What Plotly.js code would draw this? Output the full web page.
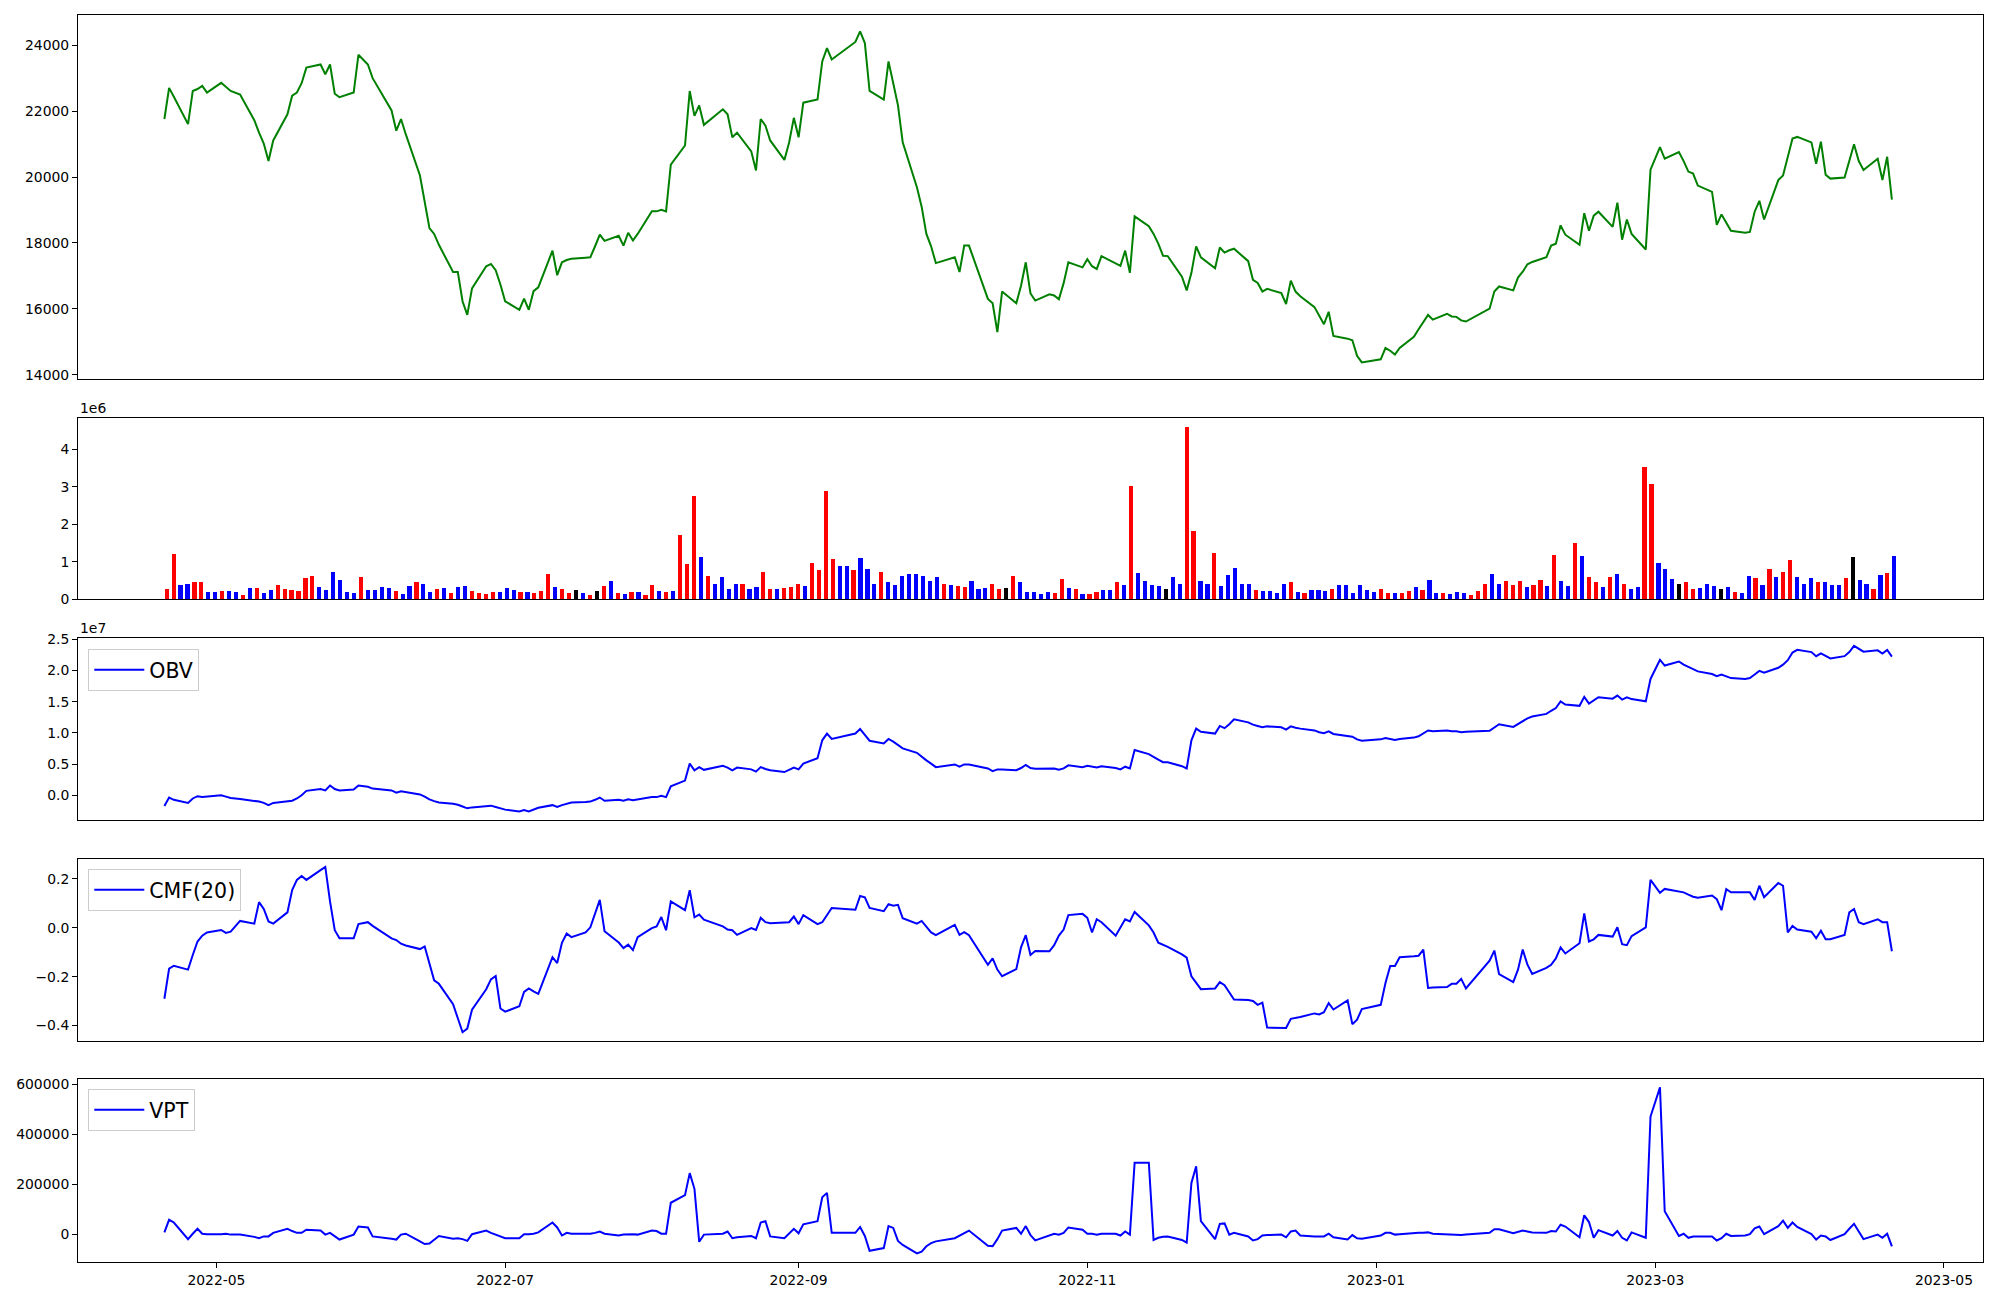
<!DOCTYPE html>
<html>
<head>
<meta charset="utf-8">
<script src="https://cdn.plot.ly/plotly-3.0.1.min.js"></script>
<style>html,body{margin:0;padding:0;background:#fff;}#chart{width:2000px;height:1300px;}</style>
</head>
<body>
<div id="chart"></div>
<script>
// Trading dates
const dates = [
'2022-04-20','2022-04-21','2022-04-22','2022-04-25','2022-04-26','2022-04-27','2022-04-28','2022-04-29',
'2022-05-02','2022-05-03','2022-05-04','2022-05-06','2022-05-09','2022-05-10','2022-05-11','2022-05-12','2022-05-13','2022-05-16','2022-05-17','2022-05-18','2022-05-19','2022-05-20','2022-05-23','2022-05-24','2022-05-25','2022-05-26','2022-05-27','2022-05-30','2022-05-31',
'2022-06-02','2022-06-03','2022-06-07','2022-06-08','2022-06-09','2022-06-10','2022-06-13','2022-06-14','2022-06-15','2022-06-16','2022-06-17','2022-06-20','2022-06-21','2022-06-22','2022-06-23','2022-06-24','2022-06-27','2022-06-28','2022-06-29','2022-06-30',
'2022-07-01','2022-07-04','2022-07-05','2022-07-06','2022-07-07','2022-07-08','2022-07-11','2022-07-12','2022-07-13','2022-07-14','2022-07-15','2022-07-18','2022-07-19','2022-07-20','2022-07-21','2022-07-22','2022-07-25','2022-07-26','2022-07-27','2022-07-28','2022-07-29',
'2022-08-01','2022-08-02','2022-08-03','2022-08-04','2022-08-05','2022-08-08','2022-08-09','2022-08-10','2022-08-11','2022-08-12','2022-08-16','2022-08-17','2022-08-18','2022-08-19','2022-08-22','2022-08-23','2022-08-24','2022-08-25','2022-08-26','2022-08-29','2022-08-30','2022-08-31',
'2022-09-01','2022-09-02','2022-09-05','2022-09-06','2022-09-07','2022-09-08','2022-09-13','2022-09-14','2022-09-15','2022-09-16','2022-09-19','2022-09-20','2022-09-21','2022-09-22','2022-09-23','2022-09-26','2022-09-27','2022-09-28','2022-09-29','2022-09-30',
'2022-10-04','2022-10-05','2022-10-06','2022-10-07','2022-10-11','2022-10-12','2022-10-13','2022-10-14','2022-10-17','2022-10-18','2022-10-19','2022-10-20','2022-10-21','2022-10-24','2022-10-25','2022-10-26','2022-10-27','2022-10-28','2022-10-31',
'2022-11-01','2022-11-02','2022-11-03','2022-11-04','2022-11-07','2022-11-08','2022-11-09','2022-11-10','2022-11-11','2022-11-14','2022-11-15','2022-11-16','2022-11-17','2022-11-18','2022-11-21','2022-11-22','2022-11-23','2022-11-24','2022-11-25','2022-11-28','2022-11-29','2022-11-30',
'2022-12-01','2022-12-02','2022-12-05','2022-12-06','2022-12-07','2022-12-08','2022-12-09','2022-12-12','2022-12-13','2022-12-14','2022-12-15','2022-12-16','2022-12-19','2022-12-20','2022-12-21','2022-12-22','2022-12-23','2022-12-26','2022-12-27','2022-12-28','2022-12-29',
'2023-01-02','2023-01-03','2023-01-04','2023-01-05','2023-01-06','2023-01-09','2023-01-10','2023-01-11','2023-01-12','2023-01-13','2023-01-16','2023-01-17','2023-01-18','2023-01-19','2023-01-20','2023-01-25','2023-01-26','2023-01-27','2023-01-30','2023-01-31',
'2023-02-01','2023-02-02','2023-02-03','2023-02-06','2023-02-07','2023-02-08','2023-02-09','2023-02-10','2023-02-13','2023-02-14','2023-02-15','2023-02-16','2023-02-17','2023-02-20','2023-02-21','2023-02-22','2023-02-23','2023-02-24','2023-02-27','2023-02-28',
'2023-03-02','2023-03-03','2023-03-06','2023-03-07','2023-03-08','2023-03-09','2023-03-10','2023-03-13','2023-03-14','2023-03-15','2023-03-16','2023-03-17','2023-03-20','2023-03-21','2023-03-22','2023-03-23','2023-03-24','2023-03-27','2023-03-28','2023-03-29','2023-03-30','2023-03-31',
'2023-04-03','2023-04-04','2023-04-05','2023-04-06','2023-04-07','2023-04-10','2023-04-11','2023-04-12','2023-04-13','2023-04-14','2023-04-17','2023-04-18','2023-04-19','2023-04-20'
];

// Closing price
const closePrice = [
21765,22711,22439,21611,22617,22676,22771,22570,
22865,22747,22617,22510,21730,21351,21020,20487,21114,21907,22475,22570,22853,23327,23421,23126,23421,22534,22428,22570,23717,
23421,23007,22025,21410,21765,21304,20050,19198,18453,18275,17944,17116,17116,16229,15815,16619,17293,17364,17175,16737,
16229,15968,16311,15968,16536,16654,17766,17021,17412,17483,17518,17554,17565,17900,18252,18062,18216,17920,18311,18074,18275,
18961,18961,19009,18961,20381,20961,22617,21860,22179,21588,22061,21907,21209,21351,20783,20203,21765,21564,21114,20523,21055,21801,
21209,22262,22357,23516,23918,23575,24107,24427,24072,22617,22357,23516,22853,22179,21055,19695,19103,18275,17897,17388,
17565,17116,17920,17920,16300,16169,15294,16524,16169,16702,17412,16465,16250,16442,16406,16288,16780,17412,17258,
17506,17293,17211,17601,17364,17305,17766,17092,18808,18512,18275,17979,17613,17601,16974,16560,17092,17896,17565,17234,17861,17707,
17778,17825,17447,16879,16785,16524,16607,16477,16146,16856,16524,16382,16051,15768,15531,15909,15176,15093,15046,14573,14372,
14466,14809,14726,14608,14809,15152,15377,15613,15814,15672,15850,15767,15755,15649,15613,16004,16524,16678,16560,16950,
17128,17353,17423,17565,17920,17979,18535,18251,17944,18902,18370,18831,18949,18488,19222,18098,18713,18275,17802,20227,
20913,20558,20759,20487,20168,20109,19742,19553,18547,18867,18618,18370,18311,18334,18949,19281,18713,19908,20050,20617,21173,21221,
21055,20405,21079,20073,19955,19990,20499,21000,20487,20215,20558,19908,20617,19316
];

// Volume, in units of 1e6 shares
const volumeMillions = [
0.27,1.20,0.37,0.42,0.46,0.46,0.19,0.19,
0.22,0.22,0.19,0.11,0.30,0.30,0.17,0.24,0.37,0.27,0.24,0.22,0.56,0.61,0.32,0.24,0.73,0.51,0.19,0.17,0.59,
0.24,0.24,0.32,0.30,0.22,0.13,0.35,0.46,0.40,0.19,0.27,0.30,0.17,0.32,0.35,0.22,0.17,0.13,0.19,0.19,
0.30,0.24,0.19,0.19,0.17,0.22,0.67,0.32,0.27,0.17,0.24,0.17,0.11,0.22,0.35,0.49,0.17,0.13,0.19,0.19,0.11,
0.37,0.22,0.19,0.22,1.71,0.93,2.75,1.12,0.61,0.42,0.59,0.27,0.40,0.40,0.27,0.32,0.73,0.27,0.27,0.30,0.32,0.40,
0.35,0.98,0.78,2.88,1.07,0.88,0.88,0.78,1.10,0.80,0.42,0.73,0.46,0.37,0.61,0.67,0.67,0.61,0.49,0.59,
0.40,0.37,0.35,0.32,0.49,0.27,0.30,0.42,0.27,0.30,0.61,0.46,0.19,0.19,0.13,0.19,0.17,0.54,0.30,
0.27,0.13,0.13,0.19,0.24,0.24,0.46,0.37,3.02,0.69,0.49,0.37,0.35,0.27,0.59,0.40,4.61,1.81,0.49,0.40,1.23,0.35,
0.64,0.83,0.42,0.40,0.24,0.22,0.22,0.17,0.40,0.46,0.19,0.17,0.24,0.24,0.22,0.27,0.37,0.37,0.17,0.37,0.24,
0.19,0.27,0.17,0.17,0.17,0.22,0.32,0.24,0.51,0.17,0.17,0.13,0.19,0.17,0.11,0.22,0.42,0.67,0.42,0.49,
0.37,0.49,0.32,0.37,0.51,0.35,1.17,0.49,0.35,1.49,1.15,0.59,0.46,0.32,0.59,0.67,0.40,0.27,0.32,3.52,
3.09,0.98,0.80,0.54,0.42,0.46,0.27,0.30,0.40,0.35,0.27,0.32,0.19,0.17,0.61,0.56,0.37,0.80,0.59,0.73,1.05,0.59,
0.42,0.56,0.46,0.46,0.37,0.37,0.56,1.12,0.51,0.40,0.27,0.64,0.69,1.15
];

// Candle direction per day: u = up, d = down, f = flat
const candleDirection =
"uudduudd" +
"uddududduuuuuuddddddu" +
"ddddudduddududduuuud" +
"dduduuuduufdufudududu" +
"ududuuududdddudduuduuu" +
"duuuuddudddudddddddd" +
"uduuddduufuddddduud" +
"uduuddududdddfdduuddud" +
"dddduddddududdduddddd" +
"duuduududduddduuuddu" +
"uuduududduduudududdu" +
"udddfuudddfduddududuud" +
"ddudddufddudud";

// On-balance volume, in units of 1e7
const obv1e7 = [
-0.173,-0.036,-0.072,-0.122,-0.051,-0.015,-0.029,-0.022,
-0.001,-0.022,-0.044,-0.058,-0.087,-0.101,-0.122,-0.158,-0.122,-0.094,-0.087,-0.051,0.000,0.071,0.100,0.078,0.157,0.100,0.078,0.093,0.157,
0.136,0.107,0.078,0.043,0.064,0.050,0.014,-0.022,-0.065,-0.094,-0.115,-0.137,-0.151,-0.180,-0.209,-0.194,-0.180,-0.166,-0.187,-0.209,
-0.230,-0.259,-0.237,-0.259,-0.230,-0.201,-0.158,-0.187,-0.158,-0.137,-0.115,-0.108,-0.101,-0.072,-0.036,-0.087,-0.072,-0.087,-0.065,-0.080,-0.065,
-0.029,-0.029,-0.008,-0.029,0.143,0.236,0.508,0.401,0.451,0.408,0.473,0.444,0.401,0.444,0.415,0.379,0.451,0.422,0.401,0.372,0.408,0.444,
0.415,0.508,0.594,0.881,0.989,0.903,0.989,1.061,0.967,0.874,0.831,0.903,0.860,0.810,0.752,0.681,0.616,0.559,0.508,0.451,
0.494,0.458,0.494,0.494,0.430,0.387,0.415,0.415,0.401,0.437,0.487,0.437,0.426,0.437,0.430,0.408,0.430,0.480,0.451,
0.473,0.458,0.444,0.466,0.437,0.415,0.458,0.430,0.724,0.659,0.609,0.573,0.530,0.530,0.466,0.430,0.881,1.068,1.017,0.989,1.111,1.075,
1.139,1.218,1.168,1.132,1.111,1.089,1.104,1.089,1.053,1.104,1.082,1.068,1.039,1.010,0.996,1.025,0.982,0.946,0.939,0.896,0.874,
0.896,0.917,0.903,0.888,0.903,0.924,0.946,0.989,1.039,1.025,1.039,1.025,1.025,1.010,1.017,1.032,1.082,1.139,1.096,1.139,
1.182,1.233,1.261,1.304,1.354,1.397,1.505,1.455,1.433,1.577,1.469,1.527,1.570,1.548,1.598,1.534,1.570,1.541,1.505,1.864,
2.172,2.079,2.143,2.093,2.057,2.014,1.985,1.942,1.907,1.935,1.907,1.878,1.864,1.878,1.935,1.993,1.964,2.043,2.093,2.165,2.287,2.330,
2.294,2.229,2.272,2.229,2.193,2.229,2.294,2.394,2.351,2.301,2.322,2.272,2.330,2.222
];

// Chaikin money flow (20)
const cmf20 = [
-0.290,-0.167,-0.155,-0.171,-0.111,-0.056,-0.032,-0.019,
-0.009,-0.021,-0.016,0.028,0.017,0.105,0.077,0.026,0.017,0.063,0.154,0.196,0.212,0.196,0.236,0.249,0.108,-0.010,-0.043,-0.043,0.015,
0.023,0.008,-0.043,-0.050,-0.065,-0.072,-0.087,-0.076,-0.151,-0.215,-0.229,-0.312,-0.370,-0.427,-0.412,-0.335,-0.251,-0.211,-0.197,-0.330,
-0.343,-0.321,-0.262,-0.248,-0.260,-0.270,-0.120,-0.144,-0.061,-0.023,-0.038,-0.019,0.002,0.060,0.114,-0.014,-0.060,-0.083,-0.069,-0.091,-0.038,
-0.001,0.006,0.044,-0.010,0.108,0.072,0.154,0.043,0.054,0.033,0.006,-0.007,-0.010,-0.029,-0.001,-0.009,0.041,0.023,0.019,0.023,0.023,0.046,
0.015,0.052,0.015,0.023,0.050,0.081,0.074,0.130,0.125,0.081,0.068,0.097,0.090,0.094,0.039,0.017,0.028,0.002,-0.019,-0.030,
0.012,-0.029,-0.018,-0.030,-0.151,-0.125,-0.171,-0.198,-0.169,-0.080,-0.030,-0.111,-0.095,-0.096,-0.071,-0.032,-0.007,0.052,0.057,
0.041,-0.019,0.035,0.023,-0.032,0.002,0.035,0.026,0.065,0.010,-0.019,-0.061,-0.069,-0.078,-0.109,-0.122,-0.198,-0.226,-0.251,-0.248,-0.222,-0.235,
-0.266,-0.293,-0.295,-0.299,-0.315,-0.306,-0.408,-0.408,-0.410,-0.372,-0.370,-0.365,-0.350,-0.354,-0.345,-0.308,-0.334,-0.297,-0.394,-0.376,-0.332,
-0.315,-0.226,-0.156,-0.156,-0.120,-0.116,-0.114,-0.089,-0.246,-0.244,-0.242,-0.229,-0.229,-0.209,-0.248,-0.134,-0.093,-0.189,-0.222,-0.171,
-0.089,-0.151,-0.189,-0.164,-0.151,-0.125,-0.080,-0.105,-0.063,0.059,-0.056,-0.047,-0.029,-0.036,0.002,-0.067,-0.071,-0.034,0.002,0.196,
0.143,0.159,0.150,0.145,0.136,0.127,0.123,0.132,0.117,0.072,0.158,0.145,0.145,0.145,0.114,0.172,0.125,0.183,0.172,-0.019,0.008,-0.007,
-0.016,-0.043,-0.012,-0.047,-0.047,-0.029,0.063,0.077,0.023,0.015,0.035,0.023,0.023,-0.096
];

// Volume price trend
const vpt = [
8900,59100,48400,-18000,3500,23300,3500,1800,
1800,3500,0,0,-9000,-14400,-7200,-7200,7100,23300,14300,7100,7100,19700,16100,0,7100,-7200,-19700,0,32200,
28600,-7200,-16200,-19700,0,3500,-26900,-37700,-35900,-21500,-5400,-16200,-14400,-18000,-25100,1800,16100,7100,0,-7200,
-14400,-14400,1800,1800,3500,8900,48400,28600,-3600,7100,3500,3500,3500,7000,12500,3500,-3600,0,1800,1800,0,
16100,14300,3500,3500,127200,157700,245500,182800,-28700,0,3500,12500,-14400,-10800,-5400,-14400,48400,53700,-7200,-14400,3500,23300,
5300,41200,53700,148700,166600,7100,7100,30400,-5400,-64500,-53800,34000,26800,-25100,-41200,-75300,-68100,-46600,-34100,-26900,
-14400,-3600,5300,16100,-44800,-46600,-18000,16100,26800,3500,34000,-1800,-23000,-1800,3500,0,7100,28600,19700,
3500,3500,0,3500,3500,-3600,12500,0,286700,286700,-21500,-12600,-9000,-7200,-21500,-32300,206000,272400,53700,-18000,43000,44800,
0,7100,-7200,-23300,-18000,-3600,-1800,0,-10800,12500,16100,-3600,-7200,-7200,-7200,3500,-10800,-19700,-1800,-14400,-16200,
-3600,7100,7100,0,1800,7100,7100,7100,8900,3500,0,0,-1800,-1800,0,7100,21500,21500,5300,10700,
16100,12500,8900,7100,14300,12500,39400,32200,-10800,77000,50100,-12600,17900,-3600,14300,-12600,-23300,8900,-12600,471300,
587800,93000,-5400,3500,-12600,-7200,-7200,-7200,-23300,-14400,3500,-5400,-3600,1800,25100,32200,1800,34000,55500,26800,48400,30400,
1800,-19700,-3600,-7200,-21500,1800,23300,43000,12500,-18000,0,-12600,3500,-46600
];

// ---- build figure ----
const dirColor = {u: '#ff0000', d: '#0000ff', f: '#000000'};
const barColors = candleDirection.split('').map(c => dirColor[c]);
const barIndex = volumeMillions.map((v, i) => i);

const FONT = 'DejaVu Sans, Liberation Sans, sans-serif';
const TICKFONT = {family: FONT, size: 13.9, color: '#000'};

const traces = [
  {x: dates, y: closePrice, type: 'scatter', mode: 'lines', line: {color: '#008000', width: 2},
   xaxis: 'x', yaxis: 'y', showlegend: false, hoverinfo: 'skip'},
  {x: barIndex, y: volumeMillions, type: 'bar', width: 0.6, marker: {color: barColors, line: {width: 0}},
   xaxis: 'x2', yaxis: 'y2', showlegend: false, hoverinfo: 'skip'},
  {x: dates, y: obv1e7, type: 'scatter', mode: 'lines', name: 'OBV', line: {color: '#0000ff', width: 2},
   xaxis: 'x3', yaxis: 'y3', legend: 'legend', hoverinfo: 'skip'},
  {x: dates, y: cmf20, type: 'scatter', mode: 'lines', name: 'CMF(20)', line: {color: '#0000ff', width: 2},
   xaxis: 'x4', yaxis: 'y4', legend: 'legend2', hoverinfo: 'skip'},
  {x: dates, y: vpt, type: 'scatter', mode: 'lines', name: 'VPT', line: {color: '#0000ff', width: 2},
   xaxis: 'x5', yaxis: 'y5', legend: 'legend3', hoverinfo: 'skip'}
];

const dateRange = ['2022-04-01 18:00', '2023-05-09 06:00'];
const frame = {showline: true, mirror: true, linecolor: '#000', linewidth: 1, showgrid: false, zeroline: false,
               automargin: false, tickfont: TICKFONT};
const hiddenX = Object.assign({}, frame, {showticklabels: false, ticks: ''});
const yBase = Object.assign({}, frame, {ticks: 'outside', ticklen: 5, tickwidth: 1, tickcolor: '#000'});

const legendBase = {
  xanchor: 'left', yanchor: 'top', x: 0.0054,
  bgcolor: 'rgba(255,255,255,0.8)', bordercolor: '#cccccc', borderwidth: 1,
  itemwidth: 50,
  font: {family: FONT, size: 20.5, color: '#000'}
};

const layout = {
  width: 2000, height: 1300,
  margin: {l: 78, r: 17, t: 15, b: 38, pad: 0},
  paper_bgcolor: '#fff', plot_bgcolor: '#fff',
  font: {family: FONT, size: 13.9, color: '#000'},
  showlegend: true,
  bargap: 0,
  xaxis: Object.assign({}, hiddenX, {domain: [0, 1], anchor: 'y', type: 'date', range: dateRange}),
  yaxis: Object.assign({}, yBase, {domain: [0.7079, 1], anchor: 'x', range: [13860, 24925],
          tickvals: [14000, 16000, 18000, 20000, 22000, 24000], tickformat: 'd'}),
  xaxis2: Object.assign({}, hiddenX, {domain: [0, 1], anchor: 'y2', type: 'linear', range: [-12.78, 261.78]}),
  yaxis2: Object.assign({}, yBase, {domain: [0.5314, 0.6766], anchor: 'x2', range: [0, 4.83],
          tickvals: [0, 1, 2, 3, 4], tickformat: 'd'}),
  xaxis3: Object.assign({}, hiddenX, {domain: [0, 1], anchor: 'y3', type: 'date', range: dateRange}),
  yaxis3: Object.assign({}, yBase, {domain: [0.3545, 0.5002], anchor: 'x3', range: [-0.395, 2.516],
          tickvals: [0, 0.5, 1, 1.5, 2, 2.5], tickformat: '.1f'}),
  xaxis4: Object.assign({}, hiddenX, {domain: [0, 1], anchor: 'y4', type: 'date', range: dateRange}),
  yaxis4: Object.assign({}, yBase, {domain: [0.1772, 0.3229], anchor: 'x4', range: [-0.463, 0.280],
          tickvals: [-0.4, -0.2, 0, 0.2], tickformat: '.1f'}),
  xaxis5: Object.assign({}, frame, {domain: [0, 1], anchor: 'y5', type: 'date', range: dateRange,
          ticks: 'outside', ticklen: 5, tickwidth: 1, tickcolor: '#000',
          tick0: '2022-01-01', dtick: 'M2', tickformat: '%Y-%m'}),
  yaxis5: Object.assign({}, yBase, {domain: [0, 0.1465], anchor: 'x5', range: [-109333, 620000],
          tickvals: [0, 200000, 400000, 600000], tickformat: 'd'}),
  legend: Object.assign({}, legendBase, {y: 0.4916}),
  legend2: Object.assign({}, legendBase, {y: 0.3152}),
  legend3: Object.assign({}, legendBase, {y: 0.1387}),
  annotations: [
    {text: '1e6', xref: 'paper', yref: 'paper', x: 0, y: 0.6766, xanchor: 'left', yanchor: 'bottom',
     showarrow: false, font: {family: FONT, size: 13.9, color: '#000'}, xshift: 0, yshift: 0},
    {text: '1e7', xref: 'paper', yref: 'paper', x: 0, y: 0.5002, xanchor: 'left', yanchor: 'bottom',
     showarrow: false, font: {family: FONT, size: 13.9, color: '#000'}, xshift: 0, yshift: 0}
  ]
};

Plotly.newPlot('chart', traces, layout, {displayModeBar: false, staticPlot: true});
</script>
</body>
</html>
